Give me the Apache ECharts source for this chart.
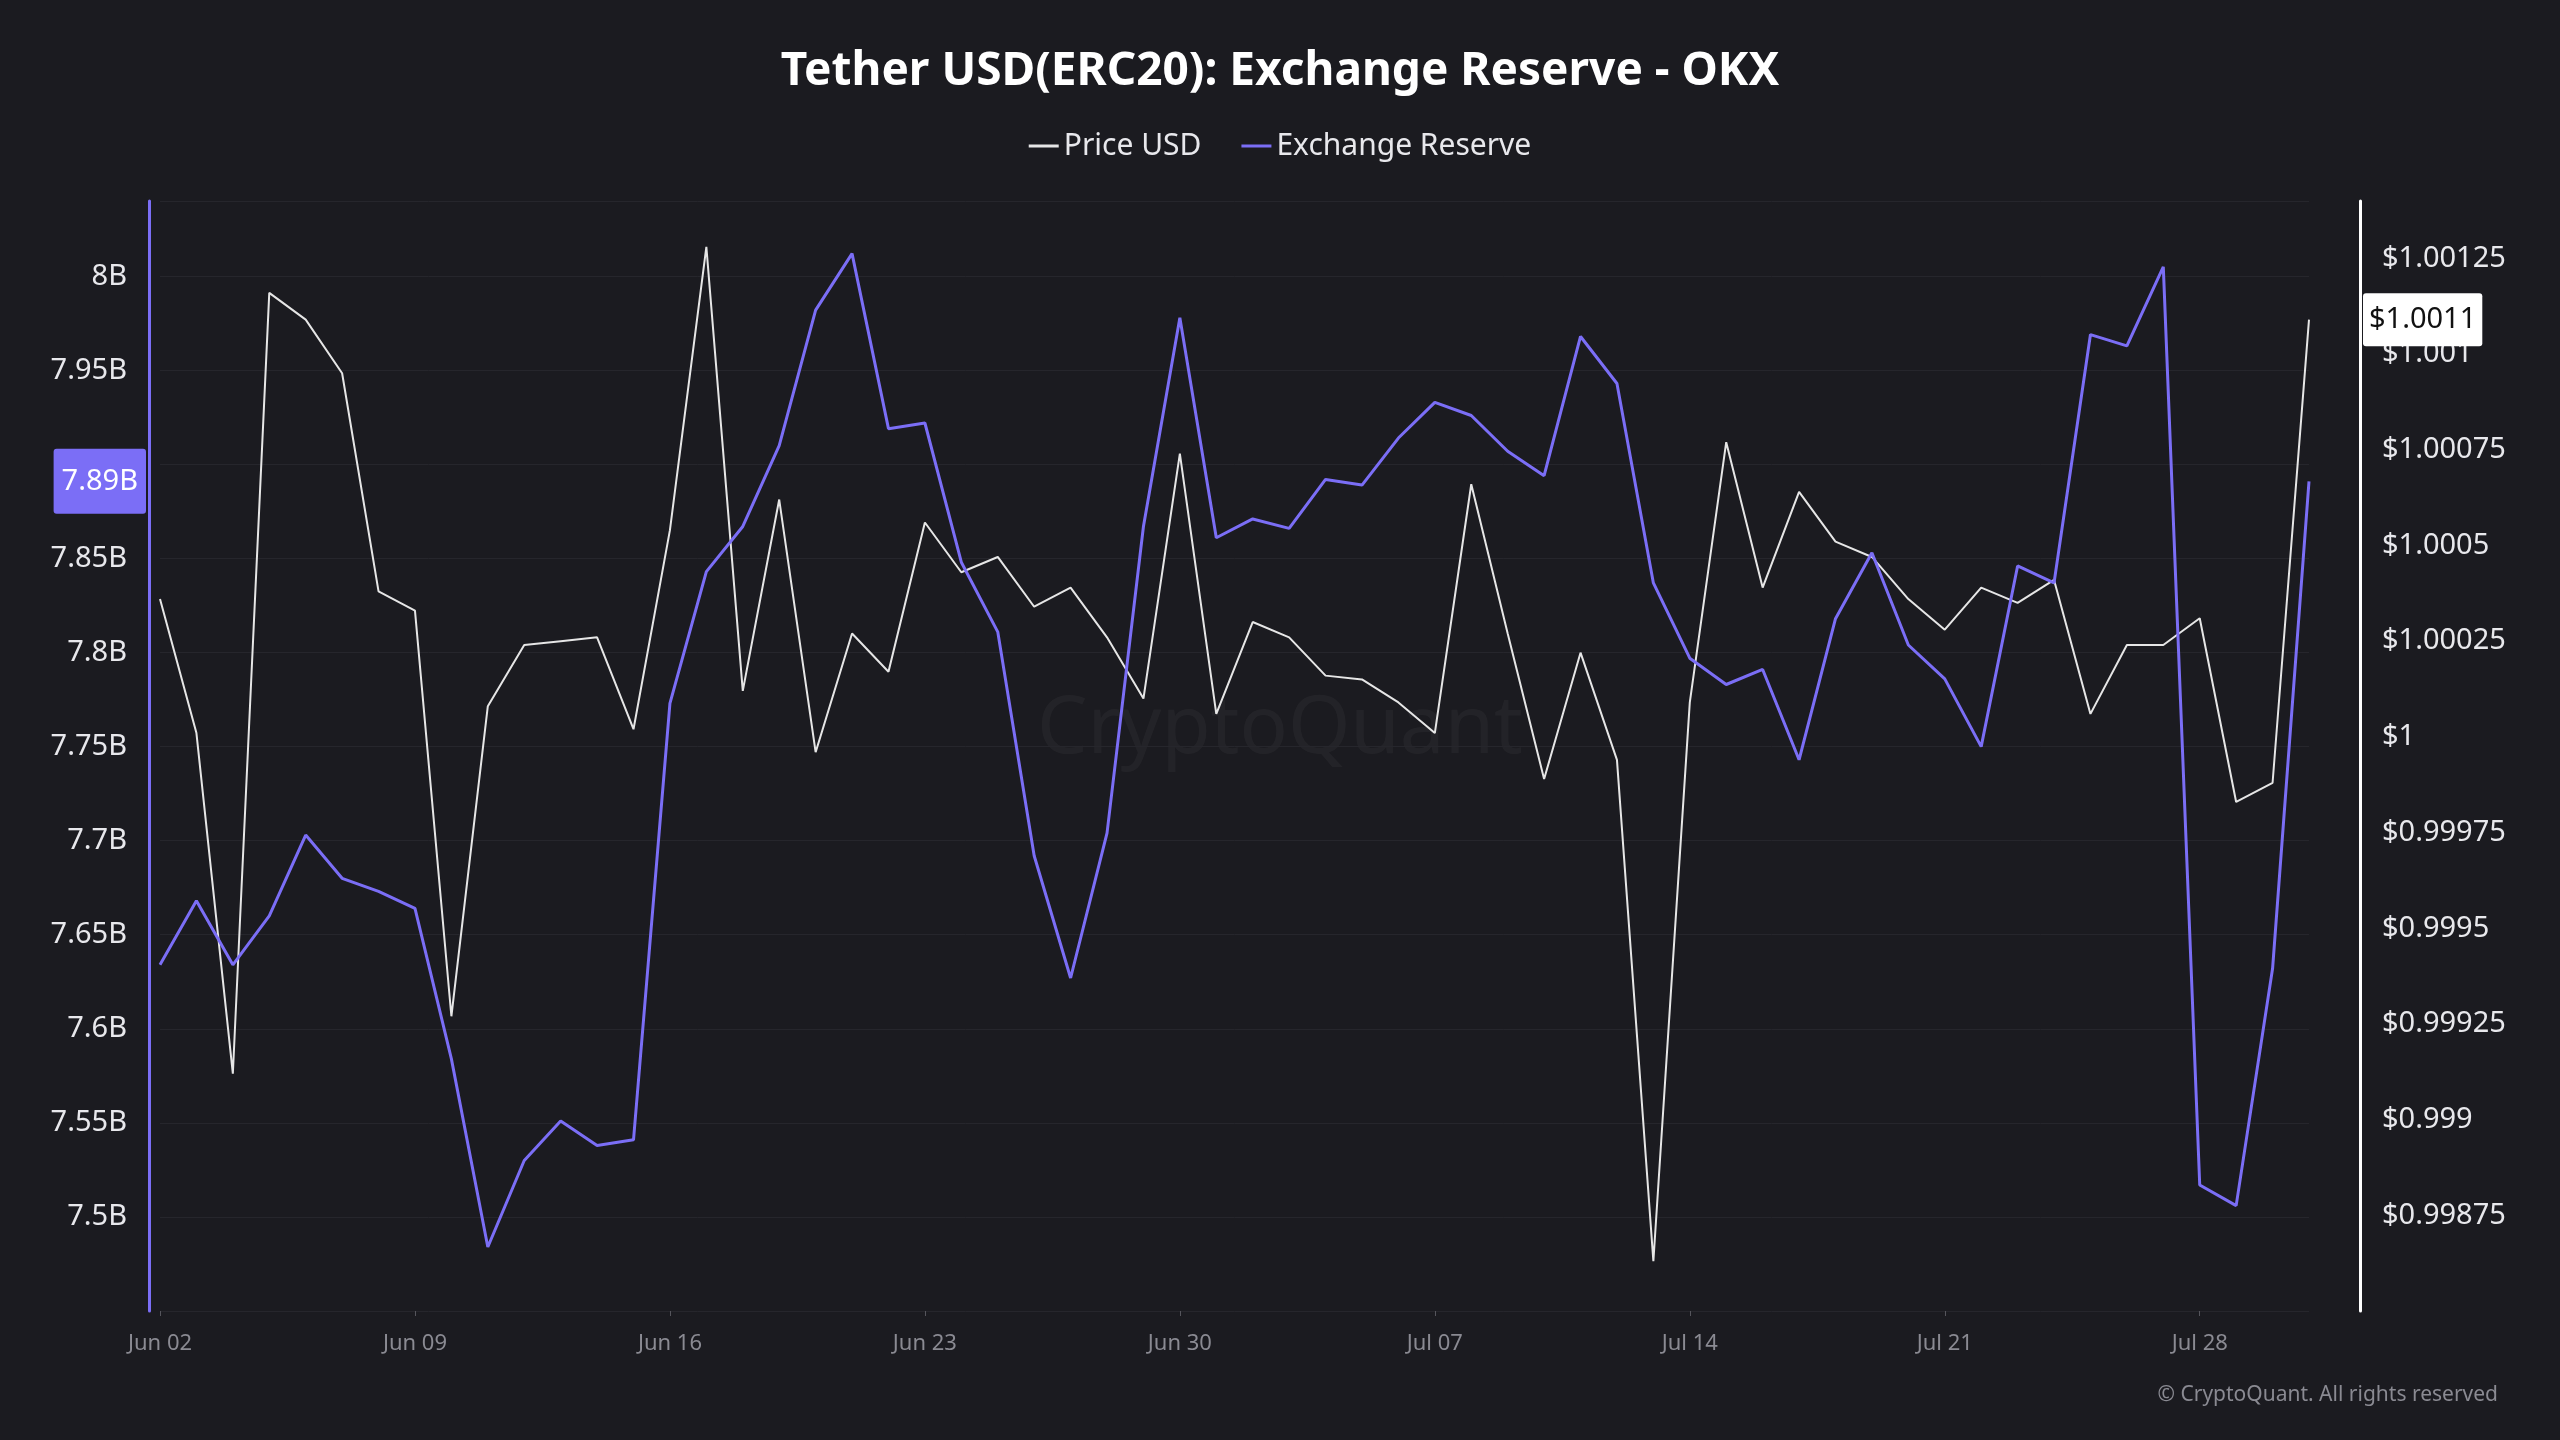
<!DOCTYPE html>
<html>
<head>
<meta charset="utf-8">
<script src="https://cdn.jsdelivr.net/npm/echarts@6/dist/echarts.min.js"></script>
<style>
  html, body { margin:0; padding:0; background:#1b1b20; }
  #chart { width:2560px; height:1440px; }
</style>
</head>
<body>
<div id="chart"></div>
<script>
// dates: Jun 02 .. Jul 31
var dates = [];
(function(){
  var months = ['Jun','Jul'];
  for (var i = 0; i < 60; i++) {
    var d = new Date(2024, 5, 2 + i);
    var dd = d.getDate();
    dates.push(months[d.getMonth() - 5] + ' ' + (dd < 10 ? '0' + dd : dd));
  }
})();

// 交易所储备 (B)
var reserve = [7.634,7.668,7.634,7.660,7.703,7.680,7.673,7.664,7.584,7.484,
  7.530,7.551,7.538,7.541,7.773,7.843,7.867,7.910,7.982,8.012,
  7.919,7.922,7.848,7.811,7.692,7.627,7.704,7.867,7.978,7.861,
  7.871,7.866,7.892,7.889,7.914,7.933,7.926,7.907,7.894,7.968,
  7.943,7.837,7.797,7.783,7.791,7.743,7.818,7.853,7.804,7.786,
  7.750,7.846,7.837,7.969,7.963,8.005,7.517,7.506,7.632,7.891];

// 价格 USD
var price = [1.00036,1.00001,0.99912,1.00116,1.00109,1.00095,1.00038,1.00033,0.99927,1.00008,
  1.00024,1.00025,1.00026,1.00002,1.00054,1.00128,1.00012,1.00062,0.99996,1.00027,
  1.00017,1.00056,1.00043,1.00047,1.00034,1.00039,1.00026,1.0001,1.00074,1.00006,
  1.0003,1.00026,1.00016,1.00015,1.00009,1.00001,1.00066,1.00027,0.99989,1.00022,
  0.99994,0.99863,1.00009,1.00077,1.00039,1.00064,1.00051,1.00047,1.00036,1.00028,
  1.00039,1.00035,1.00041,1.00006,1.00024,1.00024,1.00031,0.99983,0.99988,1.00109];

var purple = '#7b6ef6';
var txt = '#e8e8ec';
var font = 'Noto Sans';

var myChart = echarts.init(document.getElementById('chart'));
myChart.setOption({
  backgroundColor: '#1b1b20',
  animation: false,
  textStyle: { fontFamily: font },
  title: {
    text: 'Tether USD(ERC20): Exchange Reserve - OKX',
    left: 'center', top: 44,
    textStyle: { color: '#ffffff', fontSize: 46, fontWeight: 'bold', fontFamily: font }
  },
  legend: {
    top: 126, left: 'center', itemWidth: 30, itemHeight: 3, icon: 'rect', itemGap: 40,
    textStyle: { color: txt, fontSize: 30, fontFamily: font },
    data: ['Price USD', 'Exchange Reserve']
  },
  graphic: [
    { type: 'text', left: 'center', top: 690, style: { text: 'CryptoQuant', fill: 'rgba(255,255,255,0.04)', font: '80px Noto Sans' } },
    { type: 'text', right: 62, top: 1385, style: { text: '© CryptoQuant. All rights reserved', fill: '#8a8a92', font: '21px Noto Sans' } }
  ],
  grid: { left: 160, right: 251, top: 201, bottom: 129 },
  xAxis: {
    type: 'category', data: dates, boundaryGap: false,
    axisLine: { show: false },
    axisTick: { show: true, interval: 6, lineStyle: { color: '#55555c' } },
    axisLabel: { interval: 6, color: '#8a8a92', fontSize: 22, margin: 22, fontFamily: font }
  },
  yAxis: [{
    type: 'value', position: 'left', min: 7.45, max: 8.04, interval: 0.05, offset: 11,
    axisLine: { show: true, lineStyle: { color: purple, width: 3 } },
    splitLine: { lineStyle: { color: '#26262c' } },
    axisLabel: { color: txt, fontSize: 29, margin: 22, showMinLabel: false, showMaxLabel: false, fontFamily: font,
      formatter: function(v){ return (Math.round(v*100)/100) + 'B'; } },
    axisPointer: { show: true, value: 7.891, status: 'show', triggerTooltip: false,
      lineStyle: { opacity: 0 },
      label: { backgroundColor: purple, color: '#fff', fontSize: 29, padding: [18, 8], fontFamily: font,
        formatter: function(p){ return p.value.toFixed(2) + 'B'; } } }
  }, {
    type: 'value', position: 'right', min: 0.9985, max: 1.0014, interval: 0.00025, offset: 51,
    axisLine: { show: true, lineStyle: { color: '#ffffff', width: 3 } },
    splitLine: { show: false },
    axisLabel: { color: txt, fontSize: 29, margin: 22, showMinLabel: false, showMaxLabel: false, fontFamily: font,
      formatter: function(v){ return '$' + parseFloat(v.toFixed(5)); } },
    axisPointer: { show: true, value: 1.00109, status: 'show', triggerTooltip: false,
      lineStyle: { opacity: 0 },
      label: { backgroundColor: '#ffffff', color: '#111', fontSize: 29, padding: [12, 6], fontFamily: font,
        formatter: function(){ return '$1.0011'; } } }
  }],
  series: [{
    name: 'Price USD', type: 'line', yAxisIndex: 1, data: price,
    showSymbol: false, color: '#e6e6e6', lineStyle: { width: 2 }
  }, {
    name: 'Exchange Reserve', type: 'line', yAxisIndex: 0, data: reserve,
    showSymbol: false, color: purple, lineStyle: { width: 3 }
  }]
});
</script>
</body>
</html>
